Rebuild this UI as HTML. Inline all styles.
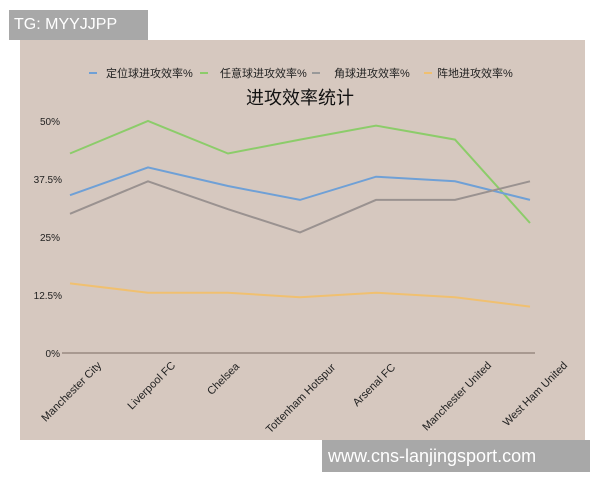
<!DOCTYPE html><html><head><meta charset="utf-8"><style>body{margin:0;background:#fff;width:600px;height:480px;overflow:hidden;position:relative;font-family:"Liberation Sans","Noto Sans CJK SC",sans-serif}
.b{position:absolute;background:#a8a8a8;color:#fff}
</style></head><body>
<div style="position:absolute;left:20px;top:40px;width:565px;height:400px;background:#d6c8bf"></div>
<div class="b" style="left:9px;top:10px;width:139px;height:30px;font-size:16px;line-height:30px;padding-left:5px;box-sizing:border-box">TG: MYYJJPP</div>
<div class="b" style="left:322px;top:440px;width:268px;height:32px;font-size:18px;line-height:32px;padding-left:6px;box-sizing:border-box">www.cns-lanjingsport.com</div>
<svg width="600" height="480" style="position:absolute;left:0;top:0" font-family="Liberation Sans,Noto Sans CJK SC,sans-serif">
<g font-size="11" fill="#222">
<line x1="89" y1="73" x2="97" y2="73" stroke="#6fa0d6" stroke-width="2"/><text x="106" y="77">定位球进攻效率%</text>
<line x1="200" y1="73" x2="208" y2="73" stroke="#8ccc6a" stroke-width="2"/><text x="220" y="77">任意球进攻效率%</text>
<line x1="312" y1="73" x2="320" y2="73" stroke="#999" stroke-width="2"/><text x="334" y="77">角球进攻效率%</text>
<line x1="424" y1="73" x2="432" y2="73" stroke="#f0c070" stroke-width="2"/><text x="437" y="77">阵地进攻效率%</text>
</g>
<text x="300" y="104" font-size="18" text-anchor="middle" fill="#111">进攻效率统计</text>
<g font-size="10" fill="#222" text-anchor="end">
<text x="60" y="125">50%</text><text x="62" y="183">37.5%</text><text x="60" y="241">25%</text><text x="62" y="299">12.5%</text><text x="60" y="357">0%</text>
</g>
<line x1="62" y1="353" x2="535" y2="353" stroke="#7a6a60" stroke-width="1"/>
<g fill="none" stroke-width="2">
<polyline stroke="#8ccc6a" points="70,153.5 148,121 228,153.5 300,139.6 376,125.6 455,139.6 530,223"/>
<polyline stroke="#6fa0d6" points="70,195.2 148,167.4 228,186 300,199.9 376,176.7 455,181.3 530,199.9"/>
<polyline stroke="#9a9290" points="70,213.8 148,181.3 228,209.2 300,232.4 376,199.9 455,199.9 530,181.3"/>
<polyline stroke="#f0c070" points="70,283.4 148,292.7 228,292.7 300,297.3 376,292.7 455,297.3 530,306.6"/>
</g>
<g font-size="11" fill="#222" text-anchor="end">
<text transform="translate(102,366) rotate(-45)">Manchester City</text>
<text transform="translate(176,366) rotate(-45)">Liverpool FC</text>
<text transform="translate(240,367) rotate(-45)">Chelsea</text>
<text transform="translate(336,368) rotate(-45)">Tottenham Hotspur</text>
<text transform="translate(396,368) rotate(-45)">Arsenal FC</text>
<text transform="translate(492,366) rotate(-45)">Manchester United</text>
<text transform="translate(568,366) rotate(-45)">West Ham United</text>
</g>
</svg>
</body></html>
